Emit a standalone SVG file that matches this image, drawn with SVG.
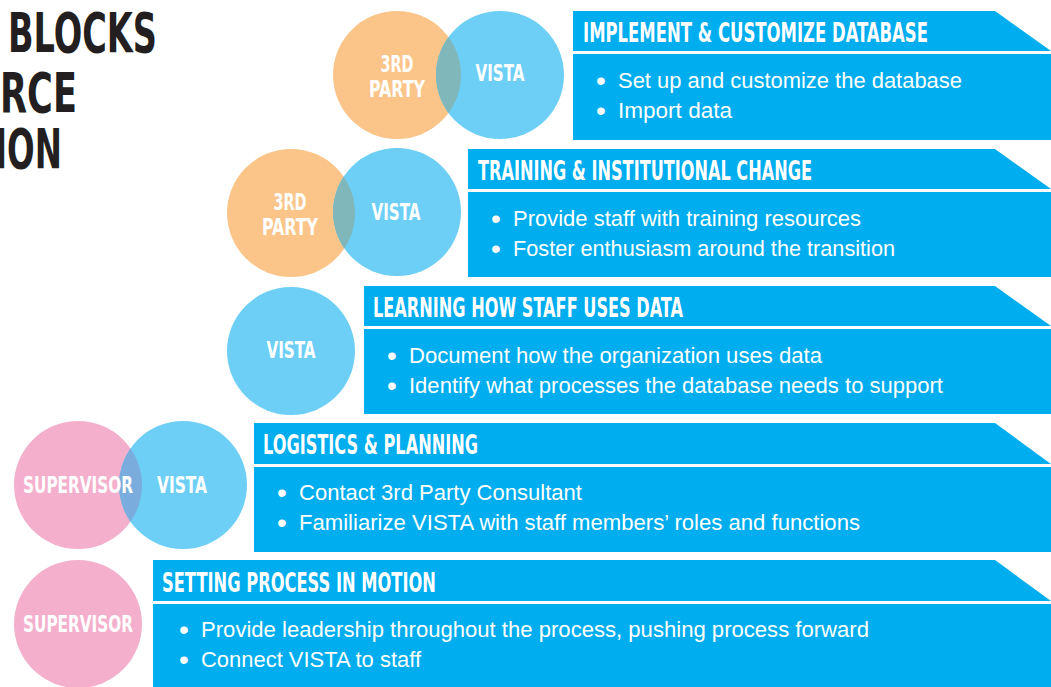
<svg xmlns="http://www.w3.org/2000/svg" width="1051" height="687" viewBox="0 0 1051 687">
<style>
.hdr{fill:#00ADEE}
.body{fill:#00ADEE}
.ht{font-family:"DejaVu Sans Condensed","DejaVu Sans",sans-serif;font-stretch:condensed;font-weight:bold;font-size:27px;fill:#fff}
.bt{font-family:"Liberation Sans","Noto Sans",sans-serif;font-size:21.5px;fill:#fff}
.bu{font-size:28px}
.ct{font-family:"DejaVu Sans Condensed","DejaVu Sans",sans-serif;font-stretch:condensed;font-weight:bold;font-size:23px;fill:#fff;text-anchor:middle}
.tt{font-family:"DejaVu Sans Condensed","DejaVu Sans",sans-serif;font-stretch:condensed;font-weight:bold;font-size:56px;fill:#231F20}
.blue{fill:#6DCFF6}
.orange{fill:#FBC58A}
.pink{fill:#F4AFCD}
</style>
<defs>
<clipPath id="c1"><circle cx="397" cy="75" r="64"/></clipPath>
<clipPath id="c2"><circle cx="291" cy="213" r="64"/></clipPath>
<clipPath id="c4"><circle cx="78" cy="485" r="64"/></clipPath>
</defs>
<rect width="1051" height="687" fill="#fff"/>

<g id="title">
<text class="tt"><tspan x="8" y="52" textLength="149" lengthAdjust="spacingAndGlyphs">BLOCKS</tspan><tspan x="0" y="112" textLength="77" lengthAdjust="spacingAndGlyphs">RCE</tspan><tspan x="-5" y="168" textLength="67" lengthAdjust="spacingAndGlyphs">ION</tspan></text>
</g>

<g id="circles-row1">
<circle class="orange" cx="397" cy="75" r="64"/>
<circle class="blue" cx="500" cy="75" r="64"/>
<circle cx="500" cy="75" r="64" fill="#80B7BA" clip-path="url(#c1)"/>
<text class="ct"><tspan x="397" y="72" textLength="33" lengthAdjust="spacingAndGlyphs">3RD</tspan><tspan x="397" y="97" textLength="56" lengthAdjust="spacingAndGlyphs">PARTY</tspan></text>
<text class="ct" x="500" y="81" textLength="49" lengthAdjust="spacingAndGlyphs">VISTA</text>
</g>

<g id="circles-row2">
<circle class="orange" cx="291" cy="213" r="64"/>
<circle class="blue" cx="397" cy="212" r="64"/>
<circle cx="397" cy="212" r="64" fill="#80B7BA" clip-path="url(#c2)"/>
<text class="ct"><tspan x="290" y="210" textLength="33" lengthAdjust="spacingAndGlyphs">3RD</tspan><tspan x="290" y="235" textLength="56" lengthAdjust="spacingAndGlyphs">PARTY</tspan></text>
<text class="ct" x="396" y="220" textLength="49" lengthAdjust="spacingAndGlyphs">VISTA</text>
</g>

<g id="circles-row3">
<circle class="blue" cx="291" cy="351" r="64"/>
<text class="ct" x="291" y="358" textLength="49" lengthAdjust="spacingAndGlyphs">VISTA</text>
</g>

<g id="circles-row4">
<circle class="pink" cx="78" cy="485" r="64"/>
<circle class="blue" cx="183" cy="485" r="64"/>
<circle cx="183" cy="485" r="64" fill="#7AADDD" clip-path="url(#c4)"/>
<text class="ct"><tspan x="78" y="493" textLength="110" lengthAdjust="spacingAndGlyphs">SUPERVISOR</tspan><tspan x="182" y="493" textLength="50" lengthAdjust="spacingAndGlyphs">VISTA</tspan></text>
</g>

<g id="circles-row5">
<circle class="pink" cx="78" cy="624" r="64"/>
<text class="ct" x="78" y="632" textLength="110" lengthAdjust="spacingAndGlyphs">SUPERVISOR</text>
</g>

<g id="block1">
<polygon class="hdr" points="573,11 995,11 1051,51 573,51"/>
<rect class="body" x="573" y="54" width="478" height="86"/>
<text class="ht" x="583" y="42" textLength="345" lengthAdjust="spacingAndGlyphs">IMPLEMENT &amp; CUSTOMIZE DATABASE</text>
<text class="bt"><tspan class="bu" x="596" y="90">•</tspan><tspan x="618" y="88" textLength="344" lengthAdjust="spacingAndGlyphs">Set up and customize the database</tspan></text>
<text class="bt"><tspan class="bu" x="596" y="120">•</tspan><tspan x="618" y="118" textLength="114" lengthAdjust="spacingAndGlyphs">Import data</tspan></text>
</g>

<g id="block2">
<polygon class="hdr" points="468,149 995,149 1051,189 468,189"/>
<rect class="body" x="468" y="192" width="583" height="85"/>
<text class="ht" x="478" y="180" textLength="334" lengthAdjust="spacingAndGlyphs">TRAINING &amp; INSTITUTIONAL CHANGE</text>
<text class="bt"><tspan class="bu" x="491" y="228">•</tspan><tspan x="513" y="226" textLength="348" lengthAdjust="spacingAndGlyphs">Provide staff with training resources</tspan></text>
<text class="bt"><tspan class="bu" x="491" y="258">•</tspan><tspan x="513" y="256" textLength="382" lengthAdjust="spacingAndGlyphs">Foster enthusiasm around the transition</tspan></text>
</g>

<g id="block3">
<polygon class="hdr" points="364,286 995,286 1051,326 364,326"/>
<rect class="body" x="364" y="329" width="687" height="85"/>
<text class="ht" x="373" y="317" textLength="310" lengthAdjust="spacingAndGlyphs">LEARNING HOW STAFF USES DATA</text>
<text class="bt"><tspan class="bu" x="387" y="365">•</tspan><tspan x="409" y="363" textLength="413" lengthAdjust="spacingAndGlyphs">Document how the organization uses data</tspan></text>
<text class="bt"><tspan class="bu" x="387" y="395">•</tspan><tspan x="409" y="393" textLength="534" lengthAdjust="spacingAndGlyphs">Identify what processes the database needs to support</tspan></text>
</g>

<g id="block4">
<polygon class="hdr" points="254,423 995,423 1051,464 254,464"/>
<rect class="body" x="254" y="467" width="797" height="85"/>
<text class="ht" x="263" y="454" textLength="215" lengthAdjust="spacingAndGlyphs">LOGISTICS &amp; PLANNING</text>
<text class="bt"><tspan class="bu" x="277" y="502">•</tspan><tspan x="299" y="500" textLength="283" lengthAdjust="spacingAndGlyphs">Contact 3rd Party Consultant</tspan></text>
<text class="bt"><tspan class="bu" x="277" y="532">•</tspan><tspan x="299" y="530" textLength="561" lengthAdjust="spacingAndGlyphs">Familiarize VISTA with staff members’ roles and functions</tspan></text>
</g>

<g id="block5">
<polygon class="hdr" points="153,560 995,560 1051,601 153,601"/>
<rect class="body" x="153" y="604" width="898" height="83"/>
<text class="ht" x="162" y="592" textLength="274" lengthAdjust="spacingAndGlyphs">SETTING PROCESS IN MOTION</text>
<text class="bt"><tspan class="bu" x="179" y="639">•</tspan><tspan x="201" y="637" textLength="668" lengthAdjust="spacingAndGlyphs">Provide leadership throughout the process, pushing process forward</tspan></text>
<text class="bt"><tspan class="bu" x="179" y="669">•</tspan><tspan x="201" y="667" textLength="220" lengthAdjust="spacingAndGlyphs">Connect VISTA to staff</tspan></text>
</g>
</svg>
